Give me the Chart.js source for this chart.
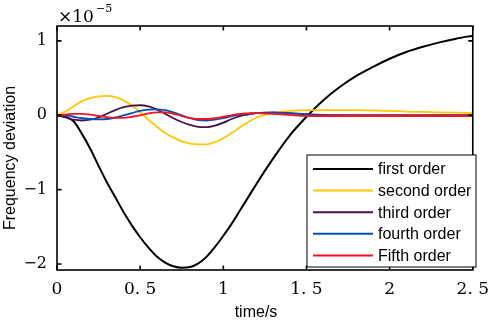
<!DOCTYPE html>
<html>
<head>
<meta charset="utf-8">
<script src="https://cdn.jsdelivr.net/npm/chart.js@4.4.1/dist/chart.umd.min.js"></script>
<style>
  html, body { margin: 0; padding: 0; background: #fff; }
  #wrap { width: 498px; height: 321px; }
</style>
</head>
<body>
<div id="wrap"><canvas id="freqChart"></canvas></div>
<script>
// time axis (s) and frequency deviation per model order, in units of 1e-5
const timeS = [0, 0.05, 0.1, 0.15, 0.2, 0.25, 0.3, 0.35, 0.4, 0.45, 0.5, 0.55, 0.6,
  0.65, 0.7, 0.75, 0.8, 0.85, 0.9, 0.95, 1.0, 1.05, 1.1, 1.15, 1.2,
  1.3, 1.4, 1.5, 1.6, 1.7, 1.8, 1.9, 2.0, 2.1, 2.2, 2.3, 2.4, 2.5];

const firstOrder = [0, -0.02, -0.08, -0.25, -0.45, -0.68, -0.9, -1.1, -1.3, -1.48, -1.64, -1.78, -1.9,
  -1.98, -2.03, -2.05, -2.04, -1.99, -1.9, -1.77, -1.62, -1.46, -1.28, -1.1, -0.92,
  -0.58, -0.27, -0.02, 0.2, 0.38, 0.53, 0.65, 0.76, 0.85, 0.92, 0.98, 1.03, 1.07];

const secondOrder = [0, 0.05, 0.12, 0.19, 0.23, 0.255, 0.26, 0.245, 0.2, 0.13, 0.04, -0.06, -0.15,
  -0.24, -0.3, -0.35, -0.38, -0.39, -0.39, -0.36, -0.31, -0.24, -0.16, -0.09, -0.03,
  0.03, 0.06, 0.07, 0.07, 0.07, 0.07, 0.065, 0.06, 0.05, 0.045, 0.04, 0.035, 0.03];

const thirdOrder = [0, -0.03, -0.06, -0.07, -0.06, -0.03, 0.02, 0.07, 0.11, 0.13, 0.135, 0.12, 0.08,
  0.02, -0.04, -0.09, -0.13, -0.155, -0.16, -0.14, -0.1, -0.05, -0.01, 0.01, 0.03,
  0.04, 0.03, 0.015, 0.005, 0, 0, 0, 0, 0, 0, 0, 0, 0];

const fourthOrder = [0, 0, -0.02, -0.04, -0.05, -0.055, -0.05, -0.03, 0, 0.03, 0.06, 0.075, 0.08,
  0.07, 0.04, 0, -0.04, -0.065, -0.07, -0.06, -0.04, -0.01, 0.01, 0.02, 0.03,
  0.035, 0.025, 0.01, 0, -0.005, -0.01, -0.01, -0.01, -0.01, -0.01, -0.01, -0.01, -0.01];

const fifthOrder = [0, 0.01, 0.02, 0.02, 0.01, -0.01, -0.025, -0.035, -0.035, -0.02, 0, 0.025, 0.04,
  0.04, 0.02, -0.01, -0.035, -0.05, -0.05, -0.04, -0.02, 0, 0.02, 0.025, 0.03,
  0.02, 0.005, -0.01, -0.01, -0.01, -0.01, -0.01, -0.01, -0.01, -0.01, -0.01, -0.01, -0.01];

const seriesNames = ["first order", "second order", "third order", "fourth order", "Fifth order"];
const xTicks = [0, 0.5, 1, 1.5, 2, 2.5];
const yTicks = [-2, -1, 0, 1];

const seriesValues = [firstOrder, secondOrder, thirdOrder, fourthOrder, fifthOrder];
const seriesColors = ["#000000", "#FFC800", "#4A1048", "#0050B8", "#FF1020"];

const tickFont = "'DejaVu Serif'";

// MATLAB-like box, inward ticks, axis labels, exponent and legend
const matlabFrame = {
  id: "matlabFrame",
  afterDatasetsDraw(chart) {
    const { ctx, chartArea: a, scales } = chart;
    const xs = scales.x, ys = scales.y;
    ctx.save();
    ctx.strokeStyle = "#000";
    ctx.lineWidth = 1.6;
    ctx.strokeRect(a.left, a.top, a.right - a.left, a.bottom - a.top);

    const tl = 4.5;
    ctx.beginPath();
    xTicks.forEach((v) => {
      const px = xs.getPixelForValue(v);
      ctx.moveTo(px, a.bottom); ctx.lineTo(px, a.bottom - tl);
      ctx.moveTo(px, a.top); ctx.lineTo(px, a.top + tl);
    });
    yTicks.forEach((v) => {
      const py = ys.getPixelForValue(v);
      ctx.moveTo(a.left, py); ctx.lineTo(a.left + tl, py);
      ctx.moveTo(a.right, py); ctx.lineTo(a.right - tl, py);
    });
    ctx.stroke();

    // exponent
    ctx.fillStyle = "#000";
    ctx.textBaseline = "alphabetic";
    ctx.textAlign = "left";
    ctx.font = "normal 400 17px \"DejaVu Serif\", serif";
    ctx.fillText("\u00d710", 58, 22);
    ctx.font = "normal 400 11px \"DejaVu Serif\", serif";
    ctx.fillText("\u22125", 96, 12);

    // axis titles
    ctx.font = "16px 'Liberation Sans'";
    ctx.textAlign = "center";
    ctx.textBaseline = "middle";
    ctx.fillText("time/s", 256, 313);
    ctx.save();
    ctx.translate(11, 158);
    ctx.rotate(-Math.PI / 2);
    ctx.fillText("Frequency deviation", 0, 0);
    ctx.restore();

    // legend
    const lx = 307, ly = 155, lw = 169, lh = 112;
    ctx.fillStyle = "#fff";
    ctx.fillRect(lx, ly, lw, lh);
    ctx.lineWidth = 1;
    ctx.strokeStyle = "#000";
    ctx.strokeRect(lx, ly, lw, lh);
    ctx.textAlign = "left";
    ctx.font = "16px 'Liberation Sans'";
    seriesNames.forEach((name, i) => {
      const ry = 169 + i * 21.6;
      ctx.strokeStyle = seriesColors[i];
      ctx.lineWidth = 2;
      ctx.beginPath();
      ctx.moveTo(313, ry); ctx.lineTo(373, ry);
      ctx.stroke();
      ctx.fillStyle = "#000";
      ctx.fillText(name, 378, ry + 1);
    });
    ctx.restore();
  },
};

new Chart(document.getElementById("freqChart"), {
  type: "line",
  data: {
    datasets: seriesNames.map((name, i) => ({
      label: name,
      data: timeS.map((t, k) => ({ x: t, y: seriesValues[i][k] })),
      borderColor: seriesColors[i],
      borderWidth: i === 0 ? 2 : 1.8,
      pointRadius: 0,
      fill: false,
      cubicInterpolationMode: "monotone",
    })).reverse(),
  },
  options: {
    responsive: true,
    maintainAspectRatio: false,
    animation: false,
    layout: { padding: { top: 26, right: 16, left: 0, bottom: 0 } },
    scales: {
      x: {
        type: "linear",
        min: 0,
        max: 2.5,
        afterFit: (s) => { s.height = 51; },
        afterBuildTicks: (s) => { s.ticks = xTicks.map((v) => ({ value: v })); },
        grid: { display: false, drawTicks: false },
        border: { display: false },
        ticks: {
          padding: 9,
          color: "#000",
          font: { family: tickFont, size: 17 },
          maxRotation: 0,
          callback: (v) => String(v).replace(".", ". "),
        },
      },
      y: {
        min: -2.08,
        max: 1.2,
        afterFit: (s) => { s.width = 57; },
        afterBuildTicks: (s) => { s.ticks = yTicks.map((v) => ({ value: v })); },
        grid: { display: false, drawTicks: false },
        border: { display: false },
        ticks: {
          padding: 10,
          color: "#000",
          font: { family: tickFont, size: 16 },
          callback: (v) => (v < 0 ? "\u2212" + Math.abs(v) : String(v)),
        },
      },
    },
    plugins: {
      legend: { display: false },
      tooltip: { enabled: false },
    },
  },
  plugins: [matlabFrame],
});
</script>
</body>
</html>
